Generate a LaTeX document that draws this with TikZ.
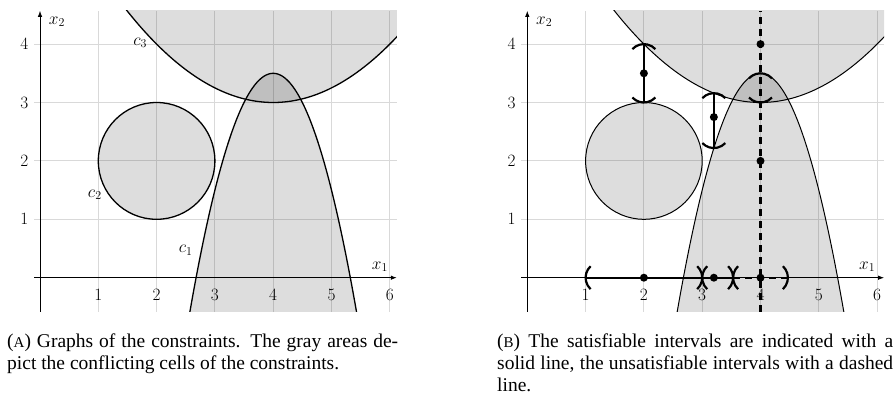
\documentclass[tikz,border=0pt]{standalone}
\usepackage{fontspec}
\newfontfamily\capfont{Liberation Serif}
\usetikzlibrary{arrows.meta}
\tikzset{
  gridline/.style={draw=black!15, line width=1pt},
  region/.style={fill=black, fill opacity=0.135},
  curveline/.style={draw=black, line width=#1},
  axisline/.style={draw=black, line width=0.9pt, -{Latex[length=6pt,width=4.5pt]}},
  ticklab/.style={font=\fontsize{17.5}{20}\selectfont, inner sep=0pt},
  axlab/.style={font=\fontsize{17.5}{20}\selectfont, inner sep=0pt},
  sat/.style={draw=black, line width=2.4pt},
  unsat/.style={draw=black, line width=2.2pt, dash pattern=on 7pt off 5pt},
  bracket/.style={draw=black, line width=2.2pt},
  dotnode/.style={circle, fill=black, inner sep=0pt, minimum size=8pt},
  captext/.style={font=\capfont\fontsize{19.5}{22}\selectfont, inner sep=0pt, anchor=base west, align=justify},
  lbr/.pic={\draw[bracket] (5pt,11.5pt) arc[start angle=133,end angle=227,radius=15.7pt];},
  rbr/.pic={\draw[bracket] (-5pt,11.5pt) arc[start angle=47,end angle=-47,radius=15.7pt];},
}
\newcommand\constraintplot[1]{%
  \foreach \i in {1,...,6} {\draw[gridline] (\i,-0.58) -- (\i,4.57);}
  \foreach \j in {1,...,4} {\draw[gridline] (-0.1,\j) -- (6.12,\j);}
  \begin{scope}
    \clip (-0.1,-0.58) rectangle (6.12,4.57);
    \fill[region] (2,2) circle[radius=1];
    \fill[region] plot[domain=2.4:5.6,samples=81,smooth] (\x,{3.5-2*(\x-4)*(\x-4)}) -- cycle;
    \fill[region] plot[domain=1:7,samples=81,smooth] (\x,{3+(\x-4)*(\x-4)/4}) -- (7,5.5) -- (1,5.5) -- cycle;
    \draw[curveline=#1] (2,2) circle[radius=1];
    \draw[curveline=#1] plot[domain=2.4:5.6,samples=81,smooth] (\x,{3.5-2*(\x-4)*(\x-4)});
    \draw[curveline=#1] plot[domain=1:7,samples=81,smooth] (\x,{3+(\x-4)*(\x-4)/4});
  \end{scope}
  \draw[axisline] (-0.1,0) -- (6.12,0);
  \draw[axisline] (0,-0.58) -- (0,4.57);
  \foreach \i in {1,...,6} {\node[ticklab] (xt\i) at (\i,-0.3) {$\i$};}
  \foreach \j in {1,...,4} {\node[ticklab] (yt\j) at (-0.27,\j) {$\j$};}
  \node[axlab] (xonelab) at (5.83,0.19) {$x_1$};
  \node[axlab] (xtwolab) at (0.29,4.38) {$x_2$};
}
\begin{document}
\begin{tikzpicture}[x=1pt,y=1pt]
\useasboundingbox (0,0) rectangle (895,-396);
\fill[white] (0,0) rectangle (895,-396);

% ---------- (A) ----------
\begin{scope}[shift={(40,-277.7)}, x=58.3pt, y=58.4pt]
  \constraintplot{1.3pt}
  \node[axlab] (cthree) at (1.72,4.02) {$c_3$};
  \node[axlab] (ctwo) at (0.94,1.42) {$c_2$};
  \node[axlab] (cone) at (2.5,0.47) {$c_1$};
\end{scope}

% ---------- (B) ----------
\begin{scope}[shift={(527.3,-277.7)}, x=58.3pt, y=58.4pt]
  \constraintplot{1pt}
  \draw[unsat] (4,-0.58) -- (4,4.57);
  \draw[sat] (1,0) -- (3.53,0);
  \draw[unsat] (3.53,0) -- (4.47,0);
  \draw[sat] (2,3) -- (2,4);
  \draw[sat] (3.2,2.22) -- (3.2,3.16);
  % brackets on the x1 axis
  \pic at (1,0) {lbr};
  \pic at (3,0) {rbr};
  \pic at (3,0) {lbr};
  \pic at (3.53,0) {rbr};
  \pic at (3.53,0) {lbr};
  \pic at (4.47,0) {rbr};
  % vertical brackets
  \pic[rotate=90] at (2,3) {lbr};
  \pic[rotate=90] at (2,4) {rbr};
  \pic[rotate=90] at (3.2,2.22) {lbr};
  \pic[rotate=90] at (3.2,3.16) {rbr};
  \pic[rotate=90] at (4,3) {lbr};
  \pic[rotate=90] at (4,3.5) {rbr};
  % sample points
  \node[dotnode] (p1) at (2,0) {};
  \node[dotnode] (p2) at (3.2,0) {};
  \node[dotnode] (p3) at (4,0) {};
  \node[dotnode] (p4) at (2,3.5) {};
  \node[dotnode] (p5) at (3.2,2.75) {};
  \node[dotnode] (p6) at (4,2) {};
  \node[dotnode] (p7) at (4,4) {};
\end{scope}

% ---------- captions ----------
\node[captext, text width=391pt] (capA) at (7,-347.5)
  {({\fontsize{15}{22}\selectfont A}) Graphs of the constraints. The gray areas de-\linebreak pict the conflicting cells of the constraints.};
\node[captext, text width=396pt] (capB) at (497,-347.5)
  {({\fontsize{15}{22}\selectfont B}) The satisfiable intervals are indicated with a\linebreak solid line, the unsatisfiable intervals with a dashed\linebreak line.};
\end{tikzpicture}
\end{document}
